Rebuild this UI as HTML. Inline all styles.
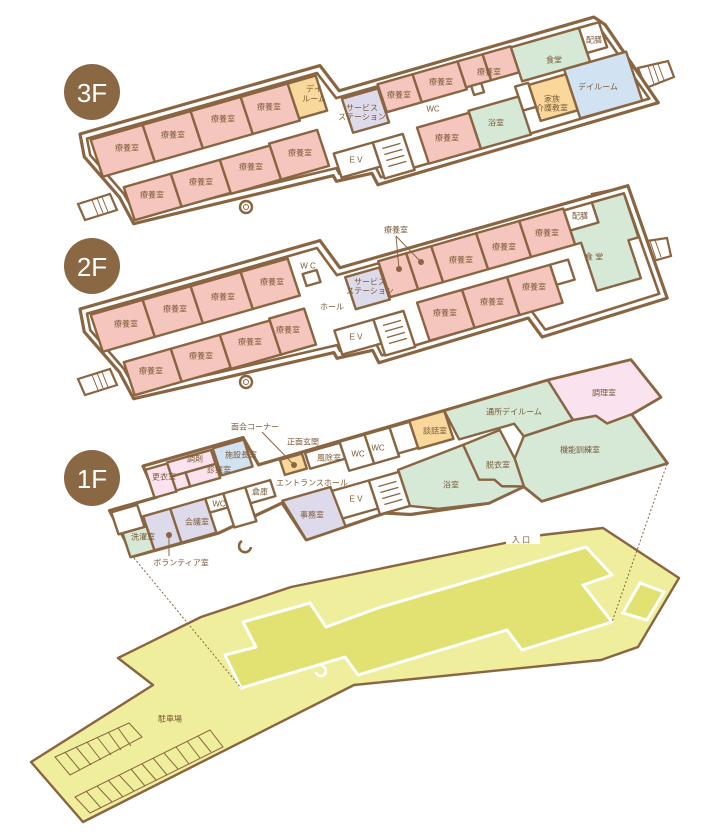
<!DOCTYPE html>
<html><head><meta charset="utf-8">
<style>
html,body{margin:0;padding:0;background:#fff;}
svg{display:block;}
text{font-family:"Liberation Sans","Noto Sans CJK JP",sans-serif;fill:#7b5a38;font-size:8px;text-anchor:middle;dominant-baseline:central;}
.w{fill:#fff;stroke:#8a6541;stroke-width:3.2;stroke-linejoin:round;}
.wi{fill:none;stroke:#8a6541;stroke-width:2.6;stroke-linejoin:round;}
.r{stroke:#8a6541;stroke-width:2.4;stroke-linejoin:round;}
.pk{fill:#f5c6bd;}.gr{fill:#d5e9d6;}.bl{fill:#d1e2f3;}.ye{fill:#fad89b;}.la{fill:#dcdaeb;}.p2{fill:#fae3ee;}.wh{fill:#fff;}
.t{stroke:#8a6541;stroke-width:1.2;}
.st{fill:#fff;stroke:#8a6541;stroke-width:2.2;}
.sl{stroke:#8a6541;stroke-width:1;}
</style></head><body>
<svg width="706" height="835" viewBox="0 0 706 835" xmlns="http://www.w3.org/2000/svg">

<!-- PARKING -->
<polygon points="31,762 83,822 354,685 601,660 638,647 679,578 603,528 542,535 505,543 291,587 201,617 118,658 153,685" fill="#eeee9c" stroke="#8a6541" stroke-width="2.4" stroke-linejoin="round"/>
<rect x="506" y="532" width="34" height="12" fill="#fff"/>
<text x="521" y="540">入 口</text>
<polygon points="243,622 310,603 326,627 378,608 586,547 612,575 583,585 612,622 522,650 507,630 358,675 345,657 241,688 225,655 256,647" fill="#e2e272" stroke="#fff" stroke-width="3" stroke-linejoin="round"/>
<polygon points="640,583 664,592 647,620 623,613" fill="#e2e272" stroke="#fff" stroke-width="3"/>
<path d="M316,672 a5,5 0 1 0 5,-6" fill="none" stroke="#fff" stroke-width="2.5"/>
<text x="170" y="719">駐車場</text>
<g fill="none" stroke="#8a6541" stroke-width="1">
<polygon points="55,757 129,723 142,737 70,775"/>
<line x1="65" y1="752" x2="80" y2="770"/><line x1="76" y1="747" x2="91" y2="765"/><line x1="87" y1="742" x2="101" y2="760"/><line x1="97" y1="737" x2="111" y2="755"/><line x1="108" y1="732" x2="121" y2="750"/><line x1="118" y1="728" x2="131" y2="746"/>
<polygon points="75,797 210,730 223,747 90,813"/>
<line x1="86" y1="791" x2="101" y2="808"/><line x1="97" y1="786" x2="112" y2="802"/><line x1="108" y1="780" x2="123" y2="797"/><line x1="119" y1="775" x2="134" y2="791"/><line x1="131" y1="769" x2="145" y2="786"/><line x1="142" y1="764" x2="156" y2="780"/><line x1="153" y1="758" x2="167" y2="775"/><line x1="164" y1="753" x2="178" y2="769"/><line x1="176" y1="747" x2="189" y2="764"/><line x1="187" y1="741" x2="200" y2="758"/><line x1="198" y1="736" x2="211" y2="752"/>
</g>
<g stroke="#8a6541" stroke-width="1" stroke-dasharray="2,2" fill="none">
<line x1="134" y1="558" x2="241" y2="688"/>
<line x1="667" y1="464" x2="612" y2="622"/>
</g>

<!-- 3F -->
<polygon class="st" points="78,204 110,194 117,210 85,220"/>
<g class="sl"><line x1="92" y1="200" x2="98" y2="215"/><line x1="97" y1="198" x2="103" y2="213"/><line x1="102" y1="197" x2="108" y2="212"/></g>
<polygon class="st" points="638,68 668,61 674,77 646,88"/>
<g class="sl"><line x1="648" y1="66" x2="654" y2="84"/><line x1="653" y1="65" x2="659" y2="82"/><line x1="658" y1="64" x2="664" y2="80"/></g>
<g transform="matrix(1,-0.285,0.33,1,80,134)">
<polygon class="w" vector-effect="non-scaling-stroke" points="0,0 240,0 250,28 505,27 513,37 538,122 257,124 255,112 220,110 219,104 22,96 17,68 -3,22"/>
<polygon class="wi" vector-effect="non-scaling-stroke" points="5,6 235,6 245,34 502,33 508,42 531,116 262,118 260,106 225,104 224,98 27,90 22,66 3,22"/>
<g class="r">
<rect class="pk" x="8" y="8" width="52" height="37" vector-effect="non-scaling-stroke"/>
<rect class="pk" x="60" y="8" width="48" height="37" vector-effect="non-scaling-stroke"/>
<rect class="pk" x="108" y="8" width="50" height="37" vector-effect="non-scaling-stroke"/>
<rect class="pk" x="158" y="8" width="47" height="37" vector-effect="non-scaling-stroke"/>
<rect class="ye" x="205" y="8" width="28" height="35" vector-effect="non-scaling-stroke"/>
<rect class="pk" x="24" y="60" width="47" height="33" vector-effect="non-scaling-stroke"/>
<rect class="pk" x="71" y="60" width="49" height="33" vector-effect="non-scaling-stroke"/>
<rect class="pk" x="120" y="60" width="50" height="34" vector-effect="non-scaling-stroke"/>
<rect class="pk" x="170" y="58" width="48" height="36" vector-effect="non-scaling-stroke"/>
<rect class="la" x="250" y="36" width="36" height="34" vector-effect="non-scaling-stroke"/>
<rect class="pk" x="287" y="32" width="35" height="28" vector-effect="non-scaling-stroke"/>
<rect class="pk" x="322" y="32" width="45" height="28" vector-effect="non-scaling-stroke"/>
<rect class="pk" x="367" y="32" width="25" height="26" vector-effect="non-scaling-stroke"/>
<rect class="pk" x="392" y="32" width="28" height="26" vector-effect="non-scaling-stroke"/>
<rect class="wh" x="372" y="58" width="10" height="9" vector-effect="non-scaling-stroke"/>
<rect class="gr" x="420" y="33" width="68" height="34" vector-effect="non-scaling-stroke"/>
<rect class="wh" x="488" y="33" width="20" height="25" vector-effect="non-scaling-stroke"/>
<rect class="bl" x="462" y="67" width="62" height="49" vector-effect="non-scaling-stroke"/>
<rect class="ye" x="425" y="72" width="37" height="36" vector-effect="non-scaling-stroke"/>
<rect class="wh" x="412" y="70" width="13" height="24" vector-effect="non-scaling-stroke"/>
<rect class="gr" x="362" y="80" width="50" height="38" vector-effect="non-scaling-stroke"/>
<rect class="pk" x="310" y="82" width="52" height="36" vector-effect="non-scaling-stroke"/>
<rect class="wh" x="265" y="84" width="30" height="36" vector-effect="non-scaling-stroke"/>
<rect class="wh" x="226" y="84" width="39" height="24" vector-effect="non-scaling-stroke"/>
</g>
<g class="t" vector-effect="non-scaling-stroke"><line x1="272" y1="92" x2="290" y2="92"/><line x1="272" y1="98" x2="290" y2="98"/><line x1="272" y1="104" x2="290" y2="104"/><line x1="272" y1="110" x2="290" y2="110"/></g>
</g>
<circle cx="246" cy="207" r="6" fill="#fff" stroke="#8a6541" stroke-width="2.4"/><circle cx="246" cy="207" r="2.5" fill="none" stroke="#8a6541" stroke-width="1"/>
<circle cx="92" cy="92" r="28" fill="#8b6844"/>
<text x="92" y="93" style="fill:#fff;font-size:26px">3F</text>
<text x="127" y="148">療養室</text><text x="173" y="135">療養室</text><text x="223" y="119">療養室</text><text x="269" y="107">療養室</text>
<text x="314" y="89">デイ</text><text x="314" y="99">ルーム</text>
<text x="152" y="195">療養室</text><text x="201" y="182">療養室</text><text x="251" y="167">療養室</text><text x="300" y="153">療養室</text>
<text x="362" y="108">サービス</text><text x="362" y="117">ステーション</text>
<text x="399" y="95">療養室</text><text x="441" y="82">療養室</text><text x="489" y="72">療養室</text>
<text x="433" y="109">WC</text><text x="554" y="60">食堂</text><text x="594" y="40">配膳</text><text x="598" y="87">デイルーム</text>
<text x="552" y="99">家族</text><text x="552" y="108">介護教室</text><text x="496" y="123">浴室</text><text x="447" y="138">療養室</text><text x="356" y="160">E V</text>

<!-- 2F -->
<polygon class="st" points="78,379 110,369 117,385 85,395"/>
<g class="sl"><line x1="92" y1="375" x2="98" y2="390"/><line x1="97" y1="373" x2="103" y2="388"/><line x1="102" y1="372" x2="108" y2="387"/></g>
<polygon class="st" points="633,243 667,238 671,256 646,263"/>
<g class="sl"><line x1="645" y1="242" x2="651" y2="260"/><line x1="650" y1="241" x2="656" y2="259"/><line x1="655" y1="240" x2="661" y2="257"/></g>
<polygon class="st" points="592,194 621,188 624,196 595,202"/>
<g class="sl"><line x1="602" y1="192" x2="604" y2="200"/><line x1="607" y1="191" x2="609" y2="199"/><line x1="612" y1="190" x2="614" y2="198"/></g>
<g transform="matrix(1,-0.285,0.33,1,80,309)">
<polygon class="w" vector-effect="non-scaling-stroke" points="0,0 240,0 250,30 538,30 540,143 414,146 407,125 257,127 255,114 220,112 219,106 22,96 17,68 -3,22"/>
<polygon class="wi" vector-effect="non-scaling-stroke" points="5,6 235,6 245,36 532,36 534,137 419,140 412,119 262,121 260,108 225,106 224,100 27,90 22,66 3,22"/>
<g class="r">
<rect class="pk" x="8" y="8" width="52" height="37" vector-effect="non-scaling-stroke"/>
<rect class="pk" x="60" y="8" width="48" height="37" vector-effect="non-scaling-stroke"/>
<rect class="pk" x="108" y="8" width="50" height="37" vector-effect="non-scaling-stroke"/>
<rect class="pk" x="158" y="8" width="47" height="37" vector-effect="non-scaling-stroke"/>
<rect class="wh" x="214" y="26" width="14" height="12" vector-effect="non-scaling-stroke"/>
<rect class="pk" x="24" y="60" width="47" height="33" vector-effect="non-scaling-stroke"/>
<rect class="pk" x="71" y="60" width="49" height="33" vector-effect="non-scaling-stroke"/>
<rect class="pk" x="120" y="60" width="50" height="34" vector-effect="non-scaling-stroke"/>
<rect class="pk" x="170" y="58" width="35" height="36" vector-effect="non-scaling-stroke"/>
<rect class="la" x="252" y="40" width="34" height="32" vector-effect="non-scaling-stroke"/>
<rect class="pk" x="287" y="34" width="28" height="36" vector-effect="non-scaling-stroke"/>
<rect class="pk" x="315" y="34" width="25" height="36" vector-effect="non-scaling-stroke"/>
<rect class="pk" x="340" y="34" width="45" height="36" vector-effect="non-scaling-stroke"/>
<rect class="pk" x="385" y="34" width="43" height="36" vector-effect="non-scaling-stroke"/>
<rect class="pk" x="428" y="34" width="44" height="36" vector-effect="non-scaling-stroke"/>
<rect class="wh" x="472" y="36" width="28" height="20" vector-effect="non-scaling-stroke"/>
<polygon class="gr" points="472,56 500,56 500,36 532,36 532,80 522,80 522,118 478,118 478,70 472,70" vector-effect="non-scaling-stroke"/>
<rect class="pk" x="310" y="82" width="45" height="38" vector-effect="non-scaling-stroke"/>
<rect class="pk" x="355" y="82" width="45" height="38" vector-effect="non-scaling-stroke"/>
<rect class="pk" x="400" y="82" width="43" height="38" vector-effect="non-scaling-stroke"/>
<rect class="wh" x="443" y="82" width="18" height="20" vector-effect="non-scaling-stroke"/>
<rect class="wh" x="265" y="86" width="30" height="36" vector-effect="non-scaling-stroke"/>
<rect class="wh" x="226" y="86" width="39" height="24" vector-effect="non-scaling-stroke"/>
</g>
<g class="t" vector-effect="non-scaling-stroke"><line x1="272" y1="94" x2="290" y2="94"/><line x1="272" y1="100" x2="290" y2="100"/><line x1="272" y1="106" x2="290" y2="106"/><line x1="272" y1="112" x2="290" y2="112"/></g>
</g>
<circle cx="246" cy="382" r="6" fill="#fff" stroke="#8a6541" stroke-width="2.4"/><circle cx="246" cy="382" r="2.5" fill="none" stroke="#8a6541" stroke-width="1"/>
<circle cx="92" cy="266" r="28" fill="#8b6844"/>
<text x="92" y="267" style="fill:#fff;font-size:26px">2F</text>
<text x="126" y="324">療養室</text><text x="175" y="309">療養室</text><text x="223" y="297">療養室</text><text x="272" y="282">療養室</text>
<text x="308" y="266">W C</text><text x="332" y="307">ホール</text>
<text x="370" y="282">サービス</text><text x="370" y="291">ステーション</text>
<text x="396" y="230">療養室</text>
<g stroke="#8a6541" stroke-width="1"><line x1="396" y1="236" x2="399" y2="269"/><line x1="396" y1="236" x2="421" y2="262"/></g>
<circle cx="399" cy="269" r="3" fill="#8a6541"/><circle cx="421" cy="262" r="3" fill="#8a6541"/>
<text x="461" y="260">療養室</text><text x="504" y="247">療養室</text><text x="547" y="233">療養室</text>
<text x="580" y="216">配膳</text><text x="594" y="257">食 堂</text>
<text x="445" y="313">療養室</text><text x="492" y="302">療養室</text><text x="534" y="287">療養室</text>
<text x="356" y="337">E V</text>
<text x="151" y="371">療養室</text><text x="201" y="356">療養室</text><text x="250" y="342">療養室</text><text x="288" y="330">療養室</text>

<!-- 1F -->
<g transform="matrix(1,-0.285,0.33,1,80,484)">
<polygon class="w" vector-effect="non-scaling-stroke" points="63,0 163,0 169,29 459,27 541,30 557,72 525,80 543,134 417,136 405,118 368,124 293,114 270,106 230,108 190,110 179,70 112,81 27,80 19,32 66,32"/>
<g class="r">
<rect class="p2" x="64" y="4" width="22" height="28" vector-effect="non-scaling-stroke"/>
<rect class="p2" x="86" y="3" width="44" height="14" vector-effect="non-scaling-stroke"/>
<rect class="p2" x="86" y="17" width="14" height="14" vector-effect="non-scaling-stroke"/>
<rect class="p2" x="100" y="17" width="30" height="14" vector-effect="non-scaling-stroke"/>
<rect class="bl" x="132" y="2" width="31" height="27" vector-effect="non-scaling-stroke"/>
<rect class="ye" x="190" y="30" width="22" height="15" vector-effect="non-scaling-stroke"/>
<rect class="wh" x="215" y="30" width="35" height="16" vector-effect="non-scaling-stroke"/>
<rect class="wh" x="250" y="29" width="25" height="29" vector-effect="non-scaling-stroke"/>
<rect class="wh" x="275" y="29" width="25" height="29" vector-effect="non-scaling-stroke"/>
<rect class="wh" x="300" y="29" width="20" height="26" vector-effect="non-scaling-stroke"/>
<rect class="ye" x="320" y="28" width="35" height="28" vector-effect="non-scaling-stroke"/>
<polygon class="gr" points="355,28 459,27 470,70 420,72 415,58 360,58" vector-effect="non-scaling-stroke"/>
<polygon class="p2" points="459,27 541,30 557,72 525,80 500,82 492,72 470,70" vector-effect="non-scaling-stroke"/>
<polygon class="gr" points="420,72 470,70 492,72 500,82 525,80 543,134 417,136 405,118 405,90" vector-effect="non-scaling-stroke"/>
<polygon class="gr" points="362,64 400,60 405,90 405,118 385,112 380,104 366,100" vector-effect="non-scaling-stroke"/>
<polygon class="gr" points="295,70 362,64 366,100 380,104 385,112 405,118 368,124 320,116 295,106" vector-effect="non-scaling-stroke"/>
<rect class="wh" x="265" y="72" width="30" height="34" vector-effect="non-scaling-stroke"/>
<rect class="wh" x="228" y="72" width="37" height="28" vector-effect="non-scaling-stroke"/>
<polygon class="la" points="180,68 228,68 230,108 190,110" vector-effect="non-scaling-stroke"/>
<rect class="wh" x="150" y="46" width="25" height="16" vector-effect="non-scaling-stroke"/>
<rect class="wh" x="128" y="46" width="22" height="34" vector-effect="non-scaling-stroke"/>
<rect class="wh" x="110" y="46" width="18" height="14" vector-effect="non-scaling-stroke"/>
<rect class="la" x="75" y="46" width="35" height="34" vector-effect="non-scaling-stroke"/>
<rect class="la" x="48" y="46" width="27" height="34" vector-effect="non-scaling-stroke"/>
<rect class="gr" x="24" y="56" width="24" height="24" vector-effect="non-scaling-stroke"/>
<rect class="wh" x="20" y="34" width="26" height="22" vector-effect="non-scaling-stroke"/>
</g>
<g class="t" vector-effect="non-scaling-stroke"><line x1="272" y1="80" x2="290" y2="80"/><line x1="272" y1="86" x2="290" y2="86"/><line x1="272" y1="92" x2="290" y2="92"/><line x1="272" y1="98" x2="290" y2="98"/></g>
</g>
<path d="M242,541 a6,6 0 1 0 9,6" fill="none" stroke="#8a6541" stroke-width="2.6"/>
<circle cx="92" cy="478" r="28" fill="#8b6844"/>
<text x="92" y="479" style="fill:#fff;font-size:26px">1F</text>
<text x="604" y="393">調理室</text><text x="514" y="412">通所デイルーム</text><text x="435" y="431">談話室</text>
<text x="580" y="450">機能訓練室</text><text x="498" y="465">脱衣室</text><text x="451" y="485">浴室</text>
<text x="356" y="499">E V</text><text x="312" y="515">事務室</text><text x="260" y="492">倉庫</text><text x="219" y="504">WC</text>
<text x="197" y="522">会議室</text><text x="143" y="537">洗濯室</text><text x="181" y="563">ボランティア室</text>
<text x="255" y="427">面会コーナー</text><text x="303" y="442">正面玄関</text><text x="329" y="458">風除室</text>
<text x="358" y="454">WC</text><text x="378" y="448">WC</text><text x="312" y="483">エントランスホール</text>
<text x="241" y="455">施設長室</text><text x="195" y="459">調剤</text><text x="219" y="470">診察室</text><text x="164" y="477">更衣室</text>
<g stroke="#8a6541" stroke-width="1"><line x1="262" y1="432" x2="294" y2="465"/><line x1="169" y1="535" x2="169" y2="556"/></g>
<circle cx="294" cy="465" r="3" fill="#8a6541"/><circle cx="169" cy="535" r="3" fill="#8a6541"/>
</svg>
</body></html>
